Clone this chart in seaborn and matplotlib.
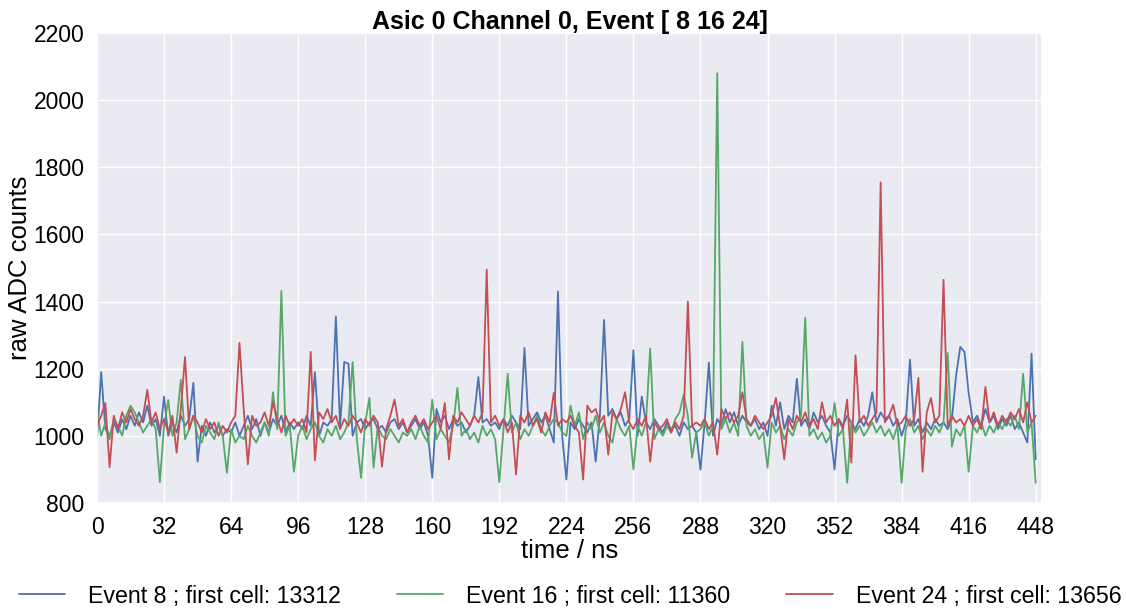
import numpy as np
import pandas as pd
import matplotlib
matplotlib.use("Agg")
import matplotlib.pyplot as plt
import seaborn as sns

# time axis (ns), sampled every 2 ns
time_ns = list(range(0, 449, 2))

event8 = [
    990, 1190, 1020, 1000, 1040, 1010, 1050, 1020, 1060, 1030, 1070, 1040, 1090, 1030, 1050, 1000,
    1117, 1000, 1040, 1010, 1060, 1030, 1050, 1158, 923, 1030, 1000, 1040, 1010, 1030, 1000, 1020,
    1010, 1040, 1000, 1030, 1060, 1020, 1050, 1000, 1040, 1010, 1050, 1030, 1060, 1010, 1040, 1020,
    1040, 1020, 1060, 1030, 1190, 1000, 1040, 1030, 1050, 1355, 1030, 1220, 1215, 1000, 1040, 1050,
    1020, 1040, 1050, 1020, 1030, 1010, 1040, 1050, 1020, 1040, 1010, 1030, 1050, 1020, 1040, 1000,
    875, 1080, 1040, 1060, 1020, 1050, 1030, 1040, 1010, 1030, 1060, 1175, 1040, 1050, 1030, 1040,
    1020, 1050, 1030, 1060, 1040, 1020, 1262, 1030, 1050, 1070, 1040, 1060, 1020, 980, 1430, 1000,
    870, 1040, 1020, 1050, 1030, 1010, 1040, 923, 1060, 1345, 1060, 1080, 1050, 1070, 1030, 1050,
    1255, 1000, 1117, 1040, 1020, 1050, 1030, 1010, 1040, 1020, 1030, 1000, 1040, 1020, 1030, 1010,
    899, 1040, 1218, 1000, 1050, 1030, 1080, 1040, 1070, 1030, 1060, 1040, 1030, 1050, 1020, 1040,
    1000, 1090, 1030, 1100, 1020, 1060, 1040, 1170, 1030, 1050, 1020, 1070, 1040, 1060, 1030, 1010,
    900, 1050, 1030, 1060, 1040, 1020, 1050, 1030, 1060, 1130, 1040, 1070, 1050, 1060, 1030, 1050,
    1000, 1040, 1227, 1030, 1050, 1010, 1040, 1020, 1050, 1030, 1040, 1020, 1050, 1180, 1265, 1250,
    1128, 1040, 1060, 1030, 1080, 1040, 1060, 1020, 1050, 1030, 1060, 1020, 1040, 1010, 980, 1245,
    930,
]

event16 = [
    1075, 1000, 1040, 990, 1050, 1030, 1000, 1060, 1090, 1070, 1040, 1010, 1030, 1050, 1020, 862,
    1030, 1107, 1000, 1040, 1167, 990, 1020, 1060, 1000, 980, 1030, 1010, 990, 1040, 1000, 890,
    1020, 980, 1000, 990, 1030, 1000, 980, 1010, 1040, 1000, 1130, 1020, 1432, 1000, 1030, 893,
    1000, 1030, 990, 1020, 1040, 1000, 980, 1020, 1000, 1030, 990, 1010, 1040, 1220, 990, 875,
    1040, 1113, 905, 1030, 1000, 990, 1020, 1000, 980, 1010, 1000, 1020, 990, 1030, 1000, 980,
    1108, 990, 1020, 1000, 980, 1030, 1143, 1000, 1020, 990, 1010, 980, 1030, 1000, 1020, 990,
    862, 1020, 1185, 1010, 1040, 990, 1020, 1000, 1030, 1060, 1020, 1000, 1030, 1050, 1040, 1010,
    1000, 1090, 1030, 1070, 990, 1040, 1020, 1060, 1010, 1040, 1000, 980, 1050, 1020, 1000, 1030,
    900, 1030, 1000, 1040, 1260, 990, 1020, 1000, 1030, 1010, 1050, 1070, 1123, 1060, 935, 1010,
    1020, 1040, 1000, 1030, 2080, 1020, 1050, 1010, 1040, 1000, 1280, 1030, 1000, 1020, 990, 1010,
    905, 1040, 1010, 1030, 990, 1020, 1000, 1040, 1060, 1352, 1000, 1020, 990, 1010, 980, 1000,
    1098, 1000, 1020, 860, 1040, 1010, 1030, 1000, 1020, 1040, 1010, 1030, 1000, 1020, 990, 1030,
    860, 1020, 1050, 1010, 1030, 990, 1020, 1000, 1030, 1010, 1040, 1247, 968, 1020, 1000, 1030,
    893, 1030, 1010, 1040, 1000, 1030, 1010, 1040, 1020, 1050, 1030, 1060, 1020, 1185, 1010, 1040,
    860,
]

event24 = [
    1030, 1060, 1098, 907, 1060, 1020, 1070, 1040, 1080, 1050, 1030, 1060, 1137, 1040, 1070, 1020,
    1050, 1010, 1060, 950, 1080, 1235, 1020, 1060, 1040, 1010, 1050, 1020, 1040, 1000, 1030, 1010,
    1040, 1060, 1277, 1080, 915, 1060, 1030, 1040, 1070, 1030, 1100, 1050, 1010, 1060, 1030, 1050,
    1030, 1050, 1010, 1250, 927, 1070, 1050, 1080, 1040, 1060, 1020, 1050, 1030, 1060, 1040, 1010,
    1050, 1030, 1060, 1040, 908, 1020, 1060, 1108, 1030, 1050, 1010, 1040, 1060, 1030, 1050, 1020,
    1040, 1060, 1020, 1098, 930, 1060, 1040, 1070, 1050, 1030, 1060, 1040, 1070, 1495, 1040, 1060,
    1030, 1050, 1010, 1040, 885, 1060, 1040, 1070, 1030, 1050, 1010, 1070, 1040, 1128, 1030, 1050,
    1040, 1060, 1030, 1010, 870, 1090, 1070, 1080, 1040, 1060, 944, 1070, 1050, 1080, 1130, 1040,
    1020, 1050, 1030, 1060, 923, 1040, 1020, 1030, 1050, 1010, 1040, 1020, 1060, 1400, 1030, 1040,
    1030, 1050, 1020, 1040, 944, 1080, 1050, 1070, 1040, 1060, 1130, 1050, 1030, 1060, 1040, 1020,
    1040, 1060, 1113, 1030, 930, 1050, 1020, 1060, 1040, 1070, 1030, 1050, 1020, 1100, 1040, 1060,
    1030, 1050, 1020, 1108, 920, 1240, 1040, 1060, 1030, 1050, 1070, 1755, 1040, 1060, 1093, 1030,
    1040, 1060, 1030, 1050, 1173, 893, 1070, 1113, 1040, 1060, 1465, 1030, 1060, 1040, 1050, 1030,
    1060, 1030, 1050, 1020, 1146, 1040, 1070, 1030, 1060, 1040, 1070, 1050, 1080, 1040, 1100, 1040,
    1060,
]

labels = ["Event 8 ; first cell: 13312",
          "Event 16 ; first cell: 11360",
          "Event 24 ; first cell: 13656"]
title = "Asic 0 Channel 0, Event [ 8 16 24]"
xticks = list(range(0, 449, 32))
yticks = list(range(800, 2201, 200))

frames = []
for lab, vals in zip(labels, [event8, event16, event24]):
    frames.append(pd.DataFrame({"time": time_ns, "adc": vals, "event": lab}))
df = pd.concat(frames, ignore_index=True)

sns.set_theme(style="darkgrid")
plt.rcParams["font.family"] = ["Liberation Sans", "DejaVu Sans"]
plt.rcParams["text.color"] = "black"
plt.rcParams["axes.labelcolor"] = "black"
plt.rcParams["xtick.color"] = "black"
plt.rcParams["ytick.color"] = "black"

palette = ["#4C72B0", "#55A868", "#C44E52"]

W, H = 1126, 609
fig = plt.figure(figsize=(W / 100, H / 100), dpi=100)
ax = fig.add_axes([97 / W, 1 - 503 / H, (1042 - 97) / W, (503 - 33) / H])
sns.lineplot(data=df, x="time", y="adc", hue="event", palette=palette,
             linewidth=1.3, ax=ax, legend=True)

ax.set_xlim(0, 451)
ax.set_ylim(800, 2200)
ax.set_xticks(xticks)
ax.set_yticks(yticks)
ax.tick_params(labelsize=16.5, pad=3)
ax.set_xlabel("time / ns", fontsize=18.5, labelpad=0)
ax.set_ylabel("raw ADC counts", fontsize=18.5, labelpad=1)
ax.set_title(title, fontsize=18, fontweight="bold", pad=3)

handles, labs = ax.get_legend_handles_labels()
ax.legend(handles, labs, loc="center", bbox_to_anchor=(570 / W, 1 - 596 / H),
          bbox_transform=fig.transFigure,
          ncol=3, frameon=False, fontsize=16.7, handlelength=2.0,
          columnspacing=2.4, handletextpad=1.0)

fig.savefig("out.png", dpi=100)
